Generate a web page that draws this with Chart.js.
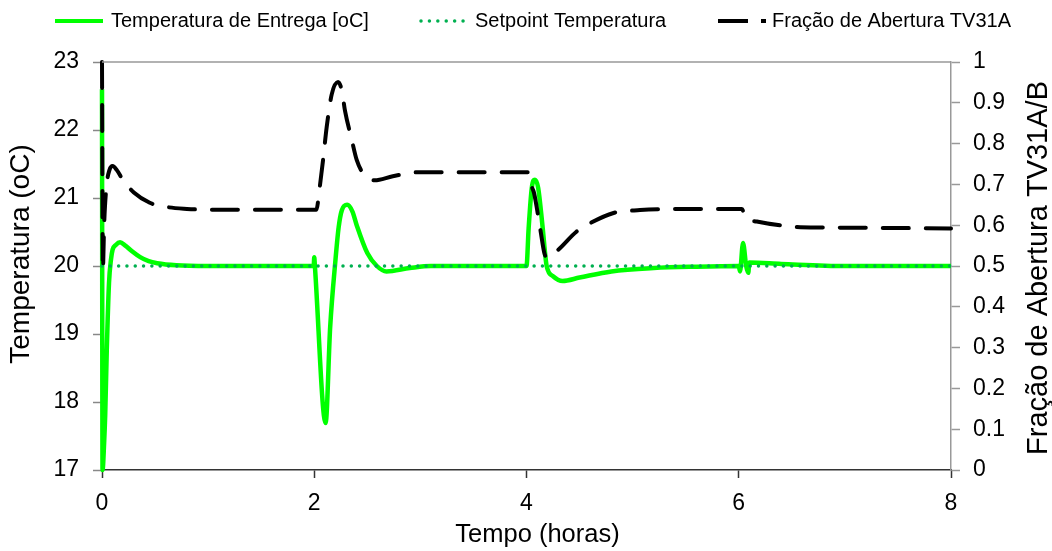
<!DOCTYPE html>
<html>
<head>
<meta charset="utf-8">
<script src="https://cdn.jsdelivr.net/npm/chart.js@4/dist/chart.umd.min.js"></script>
<style>
  html, body { margin: 0; padding: 0; background: #fff; }
  #wrap { width: 1052px; height: 551px; position: relative; }
</style>
</head>
<body>
<div id="wrap"><canvas id="c"></canvas></div>
<script>
// ---- Data ----
const tempTime = [0, 0.005, 0.02, 0.03, 0.045, 0.066, 0.085, 0.1, 0.13, 0.17, 0.22, 0.28, 0.36, 0.44, 0.52, 0.7, 1.0, 1.995,
  2.0, 2.006, 2.107, 2.15, 2.2, 2.23, 2.26, 2.31, 2.36, 2.4, 2.5, 2.59, 2.68, 2.9, 3.1,
  4.0, 4.02, 4.05, 4.08, 4.11, 4.15, 4.19, 4.25, 4.34, 4.5, 4.8, 5.2, 5.6, 6.0,
  6.012, 6.04, 6.07, 6.09, 6.1, 6.4, 7.0, 8.0];
const tempValues = [22.6, 17.0, 17.4, 17.8, 18.76, 19.75, 20.1, 20.24, 20.31, 20.35, 20.3, 20.22, 20.13, 20.07, 20.04, 20.01, 20.0, 20.0,
  20.13, 20.0, 17.69, 19.1, 20.09, 20.57, 20.82, 20.9, 20.8, 20.6, 20.19, 20.0, 19.92, 19.97, 20.0,
  20.0, 20.55, 21.15, 21.27, 21.15, 20.6, 20.0, 19.85, 19.78, 19.83, 19.92, 19.97, 19.99, 20.0,
  19.92, 20.34, 20.0, 19.9, 20.05, 20.03, 20.0, 20.0];

const setpointTime = [0, 8];
const setpointValues = [20, 20];

const fracTime = [0, 0.008, 0.02, 0.04, 0.07, 0.1, 0.14, 0.2, 0.3, 0.45, 0.6, 0.8, 1.0, 2.02,
  2.05, 2.083, 2.117, 2.164, 2.224, 2.26, 2.29, 2.353, 2.40, 2.48, 2.57, 2.74, 3.0, 4.015,
  4.04, 4.07, 4.13, 4.17, 4.2, 4.3, 4.47, 4.6, 4.82, 5.07, 5.5, 6.03, 6.06, 6.17, 6.44, 6.58, 7.0, 8.0];
const fracValues = [1.0, 0.49, 0.6, 0.69, 0.735, 0.745, 0.735, 0.71, 0.68, 0.655, 0.645, 0.64, 0.638, 0.638,
  0.69, 0.76, 0.84, 0.92, 0.951, 0.93, 0.88, 0.81, 0.76, 0.72, 0.71, 0.72, 0.73, 0.73,
  0.70, 0.68, 0.59, 0.53, 0.52, 0.54, 0.584, 0.605, 0.63, 0.637, 0.64, 0.64, 0.62, 0.609, 0.598, 0.595, 0.594, 0.592];

const xTicks = [0, 2, 4, 6, 8];
const leftTicks = [17, 18, 19, 20, 21, 22, 23];
const rightTicks = [0, 0.1, 0.2, 0.3, 0.4, 0.5, 0.6, 0.7, 0.8, 0.9, 1];

const labels = {
  temp: 'Temperatura de Entrega [oC]',
  setpoint: 'Setpoint Temperatura',
  frac: 'Fração de Abertura TV31A',
  xTitle: 'Tempo (horas)',
  yLeftTitle: 'Temperatura (oC)',
  yRightTitle: 'Fração de Abertura TV31A/B'
};

const FONT = '"Liberation Sans", Arial, sans-serif';
const GREEN = '#00ff00';
const SETPT = '#00b050';
const toXY = (xs, ys) => xs.map((x, i) => ({x: x, y: ys[i]}));

function rotatedText(ctx, text, x, y, size) {
  ctx.save();
  ctx.fillStyle = '#000';
  ctx.font = size + 'px ' + FONT;
  ctx.textAlign = 'center';
  ctx.textBaseline = 'middle';
  ctx.translate(x, y);
  ctx.rotate(-Math.PI / 2);
  ctx.fillText(text, 0, 0);
  ctx.restore();
}

const frame = {
  id: 'frame',
  afterDraw(chart) {
    const {ctx, chartArea: a} = chart;
    ctx.save();
    // top border
    ctx.strokeStyle = '#999';
    ctx.lineWidth = 1.5;
    ctx.beginPath();
    ctx.moveTo(a.left, a.top);
    ctx.lineTo(a.right, a.top);
    ctx.stroke();
    ctx.restore();

    // axis titles
    rotatedText(ctx, labels.yLeftTitle, 21, 254, 28);
    rotatedText(ctx, labels.yRightTitle, 1039, 268, 29);
    ctx.save();
    ctx.fillStyle = '#000';
    ctx.font = '25.5px ' + FONT;
    ctx.textAlign = 'center';
    ctx.textBaseline = 'alphabetic';
    ctx.fillText(labels.xTitle, 537.5, 542);
    ctx.restore();

    // legend
    ctx.save();
    const ly = 21;
    ctx.lineCap = 'butt';
    ctx.strokeStyle = GREEN; ctx.lineWidth = 4;
    ctx.beginPath(); ctx.moveTo(55, ly); ctx.lineTo(103, ly); ctx.stroke();
    ctx.strokeStyle = SETPT; ctx.lineWidth = 3.5; ctx.lineCap = 'round';
    ctx.setLineDash([0.01, 8.4]);
    ctx.beginPath(); ctx.moveTo(421, ly); ctx.lineTo(464, ly); ctx.stroke();
    ctx.strokeStyle = '#000'; ctx.lineWidth = 4; ctx.lineCap = 'butt';
    ctx.setLineDash([30, 13]);
    ctx.beginPath(); ctx.moveTo(718, ly); ctx.lineTo(766, ly); ctx.stroke();
    ctx.setLineDash([]);
    ctx.fillStyle = '#000';
    ctx.font = '20px ' + FONT;
    ctx.textAlign = 'left';
    ctx.textBaseline = 'middle';
    ctx.fillText(labels.temp, 111, ly);
    ctx.fillText(labels.setpoint, 475, ly);
    ctx.fillText(labels.frac, 772, ly);
    ctx.restore();
  }
};

new Chart(document.getElementById('c'), {
  type: 'line',
  data: {
    datasets: [
      {
        label: labels.frac, data: toXY(fracTime, fracValues), yAxisID: 'y2',
        borderColor: '#000', borderWidth: 4, borderDash: [26, 17], borderCapStyle: 'round',
        pointRadius: 0, cubicInterpolationMode: 'monotone', tension: 0.4, order: 0, clip: 8
      },
      {
        label: labels.setpoint, data: toXY(setpointTime, setpointValues), yAxisID: 'y',
        borderColor: SETPT, borderWidth: 3.5, borderDash: [0.01, 8.3], borderCapStyle: 'round',
        pointRadius: 0, order: 1, clip: 8
      },
      {
        label: labels.temp, data: toXY(tempTime, tempValues), yAxisID: 'y',
        borderColor: GREEN, borderWidth: 4.5, borderJoinStyle: 'round',
        pointRadius: 0, cubicInterpolationMode: 'monotone', tension: 0.4, order: 2, clip: 8
      }
    ]
  },
  options: {
    responsive: true,
    maintainAspectRatio: false,
    animation: false,
    events: [],
    layout: { padding: { top: 62, left: 0, right: 0, bottom: 0 } },
    plugins: { legend: { display: false }, tooltip: { enabled: false }, title: { display: false } },
    scales: {
      x: {
        type: 'linear', min: 0, max: 8,
        afterFit: s => { s.height = 81; },
        afterBuildTicks: s => { s.ticks = xTicks.map(v => ({value: v})); },
        ticks: { color: '#000', font: { family: FONT, size: 23 }, padding: 12, maxRotation: 0 },
        grid: { drawOnChartArea: false, drawTicks: true, tickLength: 8, tickColor: '#333', tickWidth: 1.5 },
        border: { display: true, color: '#333', width: 1.5 },
        title: { display: false }
      },
      y: {
        type: 'linear', position: 'left', min: 17, max: 23,
        afterFit: s => { s.width = 102; },
        afterBuildTicks: s => { s.ticks = leftTicks.map(v => ({value: v})); },
        ticks: { color: '#000', font: { family: FONT, size: 23 }, padding: 14 },
        grid: { drawOnChartArea: false, drawTicks: true, tickLength: 9, tickColor: '#888', tickWidth: 1.5 },
        border: { display: true, color: '#888', width: 1.5 },
        title: { display: false }
      },
      y2: {
        type: 'linear', position: 'right', min: 0, max: 1,
        afterFit: s => { s.width = 101; },
        afterBuildTicks: s => { s.ticks = rightTicks.map(v => ({value: v})); },
        ticks: { color: '#000', font: { family: FONT, size: 23 }, padding: 13, callback: v => String(Math.round(v * 10) / 10) },
        grid: { drawOnChartArea: false, drawTicks: true, tickLength: 9, tickColor: '#999', tickWidth: 1.5 },
        border: { display: true, color: '#999', width: 1.5 }
      }
    }
  },
  plugins: [frame]
});
</script>
</body>
</html>
